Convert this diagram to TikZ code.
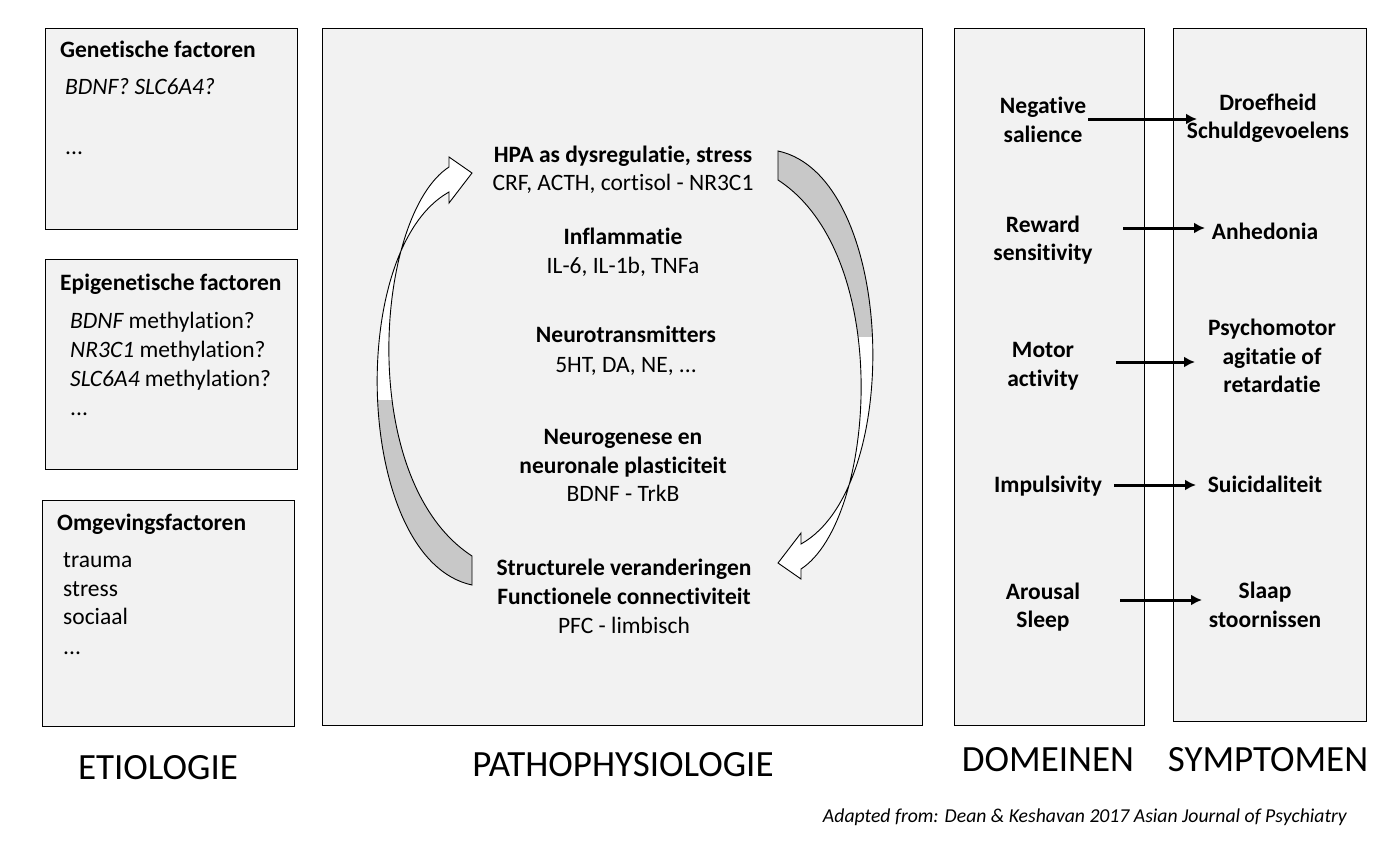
\documentclass[tikz,border=0pt]{standalone}
\usepackage{fontspec}
\setmainfont{Carlito}[Ligatures=NoCommon]
\begin{document}
\begin{tikzpicture}[x=1pt,y=-1pt,
 box/.style={draw=black,line width=1pt,fill=boxgray},
 t/.style={font=\fontsize{23.5}{28.5}\selectfont,inner sep=0,anchor=base},
 tb/.style={t,font=\fontsize{23.5}{28.5}\selectfont\bfseries},
 lab/.style={font=\fontsize{37}{40}\selectfont,inner sep=0,anchor=base},
 arr/.style={line width=3pt,-{Latex[length=11pt,width=11pt]}},
 curv/.style={draw=black,line width=0.9pt}]
\definecolor{boxgray}{HTML}{F2F2F2}
\definecolor{tailgray}{HTML}{C8C8C8}
\usetikzlibrary{arrows.meta}
\useasboundingbox (0,0) rectangle (1399,854);
% boxes
\draw[box] (45,28) rectangle (297,229);
\draw[box] (45,259) rectangle (297,469);
\draw[box] (42,500) rectangle (294,726);
\draw[box] (322,28) rectangle (922,725);
\draw[box] (954,28) rectangle (1144,725);
\draw[box] (1173,28) rectangle (1366,721);
% etiologie
\node[tb,anchor=base west] (g1) at (60,57) {Genetische factoren};
\node[t,anchor=base west] (g2) at (65,94) {\itshape BDNF? SLC6A4?};
\node[t,anchor=base west] (g3) at (65,154) {...};
\node[tb,anchor=base west] (e1) at (60,290) {Epigenetische factoren};
\node[t,anchor=base west] (e2) at (70,328) {\itshape BDNF\upshape\ methylation?};
\node[t,anchor=base west] (e3) at (70,357) {\itshape NR3C1\upshape\ methylation?};
\node[t,anchor=base west] (e4) at (70,386) {\itshape SLC6A4\upshape\ methylation?};
\node[t,anchor=base west] (e5) at (70,415) {...};
\node[tb,anchor=base west] (o1) at (57,530) {Omgevingsfactoren};
\node[t,anchor=base west] (o2) at (63,567) {trauma};
\node[t,anchor=base west] (o3) at (63,596) {stress};
\node[t,anchor=base west] (o4) at (63,624) {sociaal};
\node[t,anchor=base west] (o5) at (63,654) {...};
% pathophysiology
\node[tb] (p1) at (623,162) {HPA as dysregulatie, stress};
\node[t] (p2) at (623,190) {CRF, ACTH, cortisol - NR3C1};
\node[tb] (p3) at (623,244) {Inflammatie};
\node[t] (p4) at (623,273) {IL-6, IL-1b, TNFa};
\node[tb] (p5) at (626,342) {Neurotransmitters};
\node[t] (p6) at (626,372) {5HT, DA, NE, ...};
\node[tb] (p7) at (623,444) {Neurogenese en};
\node[tb] (p8) at (623,473) {neuronale plasticiteit};
\node[t] (p9) at (623,501) {BDNF - TrkB};
\node[tb] (p10) at (624,575) {Structurele veranderingen};
\node[tb] (p11) at (624,604) {Functionele connectiviteit};
\node[t] (p12) at (624,633) {PFC - limbisch};
% curved arrows
\newcommand{\cyclearrow}[1]{%
 \begin{scope}[#1]
 \fill[white] (472,585) .. controls (355,560) and (345,250) .. (449,192) -- (449,203) -- (472,173) -- (449,157) -- (449,167) .. controls (375,215) and (355,480) .. (472,556) -- cycle;
 \begin{scope}
  \clip (300,400) rectangle (480,600);
  \fill[tailgray] (472,585) .. controls (355,560) and (345,250) .. (449,192) -- (449,167) .. controls (375,215) and (355,480) .. (472,556) -- cycle;
 \end{scope}
 \draw[curv,line join=miter] (472,585) .. controls (355,560) and (345,250) .. (449,192) -- (449,203) -- (472,173) -- (449,157) -- (449,167) .. controls (375,215) and (355,480) .. (472,556) -- cycle;
 \end{scope}}
\cyclearrow{}
\cyclearrow{rotate around={180:(625,368)}}
% domeinen / symptomen
\node[tb,align=center,anchor=center] (d1) at (1043,120) {Negative\\salience};
\node[tb,align=center,anchor=center] (d2) at (1043,240) {Reward\\sensitivity};
\node[tb,align=center,anchor=center] (d3) at (1043,366) {Motor\\activity};
\node[tb,anchor=center] (d4) at (1048,486) {Impulsivity};
\node[tb,align=center,anchor=center] (d5) at (1043,607) {Arousal\\Sleep};
\node[tb,align=center,anchor=center] (s1) at (1268,118) {Droefheid\\Schuldgevoelens};
\node[tb,anchor=center] (s2) at (1265,231) {Anhedonia};
\node[tb,align=center,anchor=center] (s3) at (1272,356) {Psychomotor\\agitatie of\\retardatie};
\node[tb,anchor=center] (s4) at (1265,484) {Suicidaliteit};
\node[tb,align=center,anchor=center] (s5) at (1265,605) {Slaap\\stoornissen};
\coordinate (a1) at (1088,119); \coordinate (b1) at (1197,119);
\coordinate (a2) at (1123,228); \coordinate (b2) at (1205,228);
\coordinate (a3) at (1116,362); \coordinate (b3) at (1195,362);
\coordinate (a4) at (1114,485); \coordinate (b4) at (1196,485);
\coordinate (a5) at (1120,600); \coordinate (b5) at (1202,600);
\foreach \i in {1,...,5} \draw[arr] (a\i) -- (b\i);
% labels
\node[lab] (l1) at (158,779) {ETIOLOGIE};
\node[lab] (l2) at (623,776) {PATHOPHYSIOLOGIE};
\node[lab] (l3) at (1048,771) {DOMEINEN};
\node[lab] (l4) at (1268,771) {SYMPTOMEN};
\node[t,anchor=base east,font=\fontsize{19.7}{23}\selectfont\itshape] (cr) at (1347,822) {Adapted from: Dean \& Keshavan 2017 Asian Journal of Psychiatry};
\end{tikzpicture}
\end{document}
